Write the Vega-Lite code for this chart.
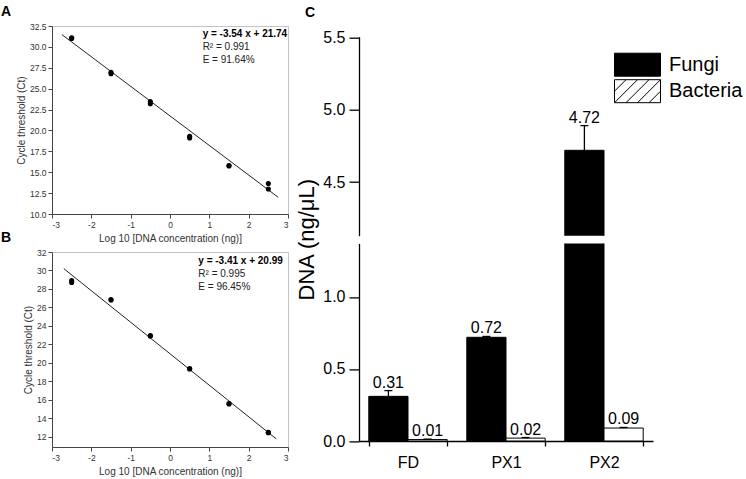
{
  "$schema": "https://vega.github.io/schema/vega-lite/v6.json",
  "padding": {"left": 0, "top": 4, "right": 0, "bottom": 0},
  "config": {
    "font": "Liberation Sans",
    "axis": {"grid": false, "titleFontWeight": "normal", "labelOverlap": false},
    "view": {"stroke": null},
    "title": {"fontWeight": "bold", "color": "black"}
  },
  "datasets": {
    "A_pts": [
      {"x": -2.5, "ct": 31.1}, {"x": -2.5, "ct": 31.0},
      {"x": -1.5, "ct": 26.95}, {"x": -1.5, "ct": 26.8},
      {"x": -0.5, "ct": 23.45}, {"x": -0.5, "ct": 23.2},
      {"x": 0.5, "ct": 19.3}, {"x": 0.5, "ct": 19.1},
      {"x": 1.5, "ct": 15.8}, {"x": 1.5, "ct": 15.75},
      {"x": 2.5, "ct": 13.65}, {"x": 2.5, "ct": 13.0}
    ],
    "A_fit": [{"x": -2.75, "ct": 31.475}, {"x": 2.75, "ct": 12.005}],
    "B_pts": [
      {"x": -2.5, "ct": 28.9}, {"x": -2.5, "ct": 28.7},
      {"x": -1.5, "ct": 26.8}, {"x": -1.5, "ct": 26.85},
      {"x": -0.5, "ct": 22.9}, {"x": -0.5, "ct": 22.95},
      {"x": 0.5, "ct": 19.4}, {"x": 0.5, "ct": 19.35},
      {"x": 1.5, "ct": 15.6}, {"x": 1.5, "ct": 15.55},
      {"x": 2.5, "ct": 12.5}, {"x": 2.5, "ct": 12.45}
    ],
    "B_fit": [{"x": -2.7, "ct": 30.197}, {"x": 2.7, "ct": 11.783}],
    "dna": [
      {"sample": "FD", "type": "Fungi", "dna": 0.31, "hi": 0.35},
      {"sample": "FD", "type": "Bacteria", "dna": 0.01, "hi": 0.013},
      {"sample": "PX1", "type": "Fungi", "dna": 0.72, "hi": 0.726},
      {"sample": "PX1", "type": "Bacteria", "dna": 0.02, "hi": 0.024},
      {"sample": "PX2", "type": "Fungi", "dna": 4.72, "hi": 4.89},
      {"sample": "PX2", "type": "Bacteria", "dna": 0.09, "hi": 0.094}
    ]
  },
  "spacing": 6,
  "hconcat": [
    {
      "bounds": "flush",
      "spacing": 38,
      "vconcat": [
        {
          "width": 236,
          "height": 188,
          "view": {"stroke": "#c4c4c4"},
          "title": {"text": "A", "anchor": "start", "frame": "group", "fontSize": 14, "dx": -51, "offset": 2.75},
          "layer": [
            {
              "data": {"name": "A_fit"},
              "mark": {"type": "line", "color": "#222", "strokeWidth": 1},
              "encoding": {
                "x": {"field": "x", "type": "quantitative", "scale": {"domain": [-3, 3], "nice": false},
                  "axis": {"title": "Log 10 [DNA concentration (ng)]", "values": [-3, -2, -1, 0, 1, 2, 3], "tickCount": 30, "labelOverlap": false, "labelExpr": "'' + datum.value", "tickSize": 4, "labelFontSize": 8.5, "titleFontSize": 10, "labelPadding": 2, "titlePadding": 5, "domainColor": "#444", "tickColor": "#444", "labelColor": "#333", "titleColor": "#333"}},
                "y": {"field": "ct", "type": "quantitative", "scale": {"domain": [10, 32.5], "nice": false, "zero": false},
                  "axis": {"title": "Cycle threshold (Ct)", "values": [10, 12.5, 15, 17.5, 20, 22.5, 25, 27.5, 30, 32.5], "tickCount": 30, "labelOverlap": false, "format": ".1f", "tickSize": 4, "labelFontSize": 8.5, "titleFontSize": 10, "labelPadding": 2, "titlePadding": 3, "domainColor": "#444", "tickColor": "#444", "labelColor": "#333", "titleColor": "#333"}}
              }
            },
            {
              "data": {"name": "A_pts"},
              "mark": {"type": "point", "filled": true, "color": "black", "size": 26, "opacity": 1},
              "encoding": {
                "x": {"field": "x", "type": "quantitative"},
                "y": {"field": "ct", "type": "quantitative"}
              }
            },
            {
              "data": {"values": [{}]},
              "mark": {"type": "text", "align": "left", "baseline": "alphabetic", "fontWeight": "bold", "fontSize": 10, "color": "black"},
              "encoding": {
                "x": {"datum": 0.83, "type": "quantitative"},
                "y": {"datum": 31.18, "type": "quantitative"},
                "text": {"value": "y = -3.54 x + 21.74"}
              }
            },
            {
              "data": {"values": [{}]},
              "mark": {"type": "text", "align": "left", "baseline": "alphabetic", "fontSize": 10, "lineHeight": 13, "color": "#222"},
              "encoding": {
                "x": {"datum": 0.83, "type": "quantitative"},
                "y": {"datum": 29.63, "type": "quantitative"},
                "text": {"value": ["R² = 0.991", "E = 91.64%"]}
              }
            }
          ]
        },
        {
          "width": 236,
          "height": 195,
          "view": {"stroke": "#c4c4c4"},
          "title": {"text": "B", "anchor": "start", "frame": "group", "fontSize": 14, "dx": -51, "offset": 2.75},
          "layer": [
            {
              "data": {"name": "B_fit"},
              "mark": {"type": "line", "color": "#222", "strokeWidth": 1},
              "encoding": {
                "x": {"field": "x", "type": "quantitative", "scale": {"domain": [-3, 3], "nice": false},
                  "axis": {"title": "Log 10 [DNA concentration (ng)]", "values": [-3, -2, -1, 0, 1, 2, 3], "tickCount": 30, "labelOverlap": false, "labelExpr": "'' + datum.value", "tickSize": 4, "labelFontSize": 8.5, "titleFontSize": 10, "labelPadding": 2, "titlePadding": 5, "domainColor": "#444", "tickColor": "#444", "labelColor": "#333", "titleColor": "#333"}},
                "y": {"field": "ct", "type": "quantitative", "scale": {"domain": [10.9, 32], "nice": false, "zero": false},
                  "axis": {"title": "Cycle threshold (Ct)", "values": [12, 14, 16, 18, 20, 22, 24, 26, 28, 30, 32], "tickCount": 30, "labelOverlap": false, "format": "d", "tickSize": 4, "labelFontSize": 8.5, "titleFontSize": 10, "labelPadding": 2, "titlePadding": 3, "domainColor": "#444", "tickColor": "#444", "labelColor": "#333", "titleColor": "#333"}}
              }
            },
            {
              "data": {"name": "B_pts"},
              "mark": {"type": "point", "filled": true, "color": "black", "size": 26, "opacity": 1},
              "encoding": {
                "x": {"field": "x", "type": "quantitative"},
                "y": {"field": "ct", "type": "quantitative"}
              }
            },
            {
              "data": {"values": [{}]},
              "mark": {"type": "text", "align": "left", "baseline": "alphabetic", "fontWeight": "bold", "fontSize": 10, "color": "black"},
              "encoding": {
                "x": {"datum": 0.72, "type": "quantitative"},
                "y": {"datum": 30.74, "type": "quantitative"},
                "text": {"value": "y = -3.41 x + 20.99"}
              }
            },
            {
              "data": {"values": [{}]},
              "mark": {"type": "text", "align": "left", "baseline": "alphabetic", "fontSize": 10, "lineHeight": 12.8, "color": "#222"},
              "encoding": {
                "x": {"datum": 0.72, "type": "quantitative"},
                "y": {"datum": 29.3, "type": "quantitative"},
                "text": {"value": ["R² = 0.995", "E = 96.45%"]}
              }
            }
          ]
        }
      ]
    },
    {
      "bounds": "flush",
      "spacing": 7.7,
      "resolve": {"scale": {"color": "independent", "y": "independent"}, "legend": {"color": "independent"}},
      "vconcat": [
        {
          "width": 294,
          "height": 2.3,
          "data": {"values": []},
          "mark": {"type": "point", "opacity": 0}
        },
        {
          "width": 294,
          "height": 199,
          "title": {"text": "C", "anchor": "start", "frame": "group", "fontSize": 14, "dx": -54, "offset": 9.7},
          "data": {"name": "dna"},
          "encoding": {
            "x": {"field": "sample", "type": "nominal", "scale": {"paddingInner": 0.2, "paddingOuter": 0.1}, "axis": null},
            "xOffset": {"field": "type", "type": "nominal", "scale": {"domain": ["Fungi", "Bacteria"], "paddingInner": 0, "paddingOuter": 0}}
          },
          "layer": [
            {
              "mark": {"type": "bar", "clip": true, "stroke": "black", "strokeWidth": 1},
              "encoding": {
                "y": {"field": "dna", "type": "quantitative", "scale": {"domain": [4.13, 5.505], "nice": false, "zero": false},
                  "axis": {"title": "DNA (ng/μL)", "titleFontSize": 22, "titleColor": "black", "titleX": -46, "titleY": 202.5, "titleAngle": -90, "titleAlign": "center", "titleBaseline": "alphabetic", "values": [4.5, 5.0, 5.5], "format": ".1f", "tickSize": 10, "tickWidth": 1.3, "domainWidth": 1.3, "labelFontSize": 16, "labelPadding": 4, "domainColor": "black", "tickColor": "black", "labelColor": "black"}},
                "color": {"field": "type", "type": "nominal", "scale": {"domain": ["Fungi", "Bacteria"], "range": ["black", "white"]},
                  "legend": {"title": null, "orient": "none", "legendX": 266.5, "legendY": 16, "symbolType": "M-2,-1H2V1H-2Z M-2,0L-1,-1 M-2,1L0,-1 M-1,1L1,-1 M0,1L2,-1 M1,1L2,0", "symbolSize": 529, "symbolStrokeColor": "black", "symbolStrokeWidth": 1, "symbolOpacity": 1, "labelFontSize": 20, "labelOffset": 19.5, "rowPadding": -1.5, "padding": 0, "labelColor": "black"}}
              }
            },
            {
              "mark": {"type": "rule", "clip": true, "strokeWidth": 1.3, "color": "black"},
              "encoding": {
                "y": {"field": "dna", "type": "quantitative"},
                "y2": {"field": "hi"}
              }
            },
            {
              "mark": {"type": "tick", "clip": true, "size": 8, "thickness": 1.3, "color": "black", "opacity": 1},
              "encoding": {
                "y": {"field": "hi", "type": "quantitative"}
              }
            },
            {
              "transform": [{"filter": "datum.hi > 4.13"}],
              "mark": {"type": "text", "dy": -3, "baseline": "alphabetic", "fontSize": 16, "color": "black"},
              "encoding": {
                "y": {"field": "hi", "type": "quantitative"},
                "text": {"field": "dna", "type": "quantitative", "format": ".2f"}
              }
            }
          ]
        },
        {
          "width": 294,
          "height": 197.6,
          "data": {"name": "dna"},
          "encoding": {
            "x": {"field": "sample", "type": "nominal", "scale": {"paddingInner": 0.2, "paddingOuter": 0.1},
              "axis": {"title": null, "labelAngle": 0, "tickBand": "extent", "tickSize": 5, "tickWidth": 1.3, "domainWidth": 1.3, "labelFontSize": 16, "labelPadding": 8, "domainColor": "black", "tickColor": "black", "labelColor": "black"}},
            "xOffset": {"field": "type", "type": "nominal", "scale": {"domain": ["Fungi", "Bacteria"], "paddingInner": 0, "paddingOuter": 0}}
          },
          "layer": [
            {
              "mark": {"type": "bar", "clip": true, "stroke": "black", "strokeWidth": 1},
              "encoding": {
                "y": {"field": "dna", "type": "quantitative", "scale": {"domain": [0, 1.372], "nice": false},
                  "axis": {"title": null, "values": [0, 0.5, 1.0], "format": ".1f", "tickSize": 10, "tickWidth": 1.3, "domainWidth": 1.3, "labelFontSize": 16, "labelPadding": 4, "domainColor": "black", "tickColor": "black", "labelColor": "black"}},
                "color": {"field": "type", "type": "nominal", "scale": {"domain": ["Fungi", "Bacteria"], "range": ["black", "white"]}, "legend": null}
              }
            },
            {
              "mark": {"type": "rule", "clip": true, "strokeWidth": 1.3, "color": "black"},
              "encoding": {
                "y": {"field": "dna", "type": "quantitative"},
                "y2": {"field": "hi"}
              }
            },
            {
              "mark": {"type": "tick", "clip": true, "size": 8, "thickness": 1.3, "color": "black", "opacity": 1},
              "encoding": {
                "y": {"field": "hi", "type": "quantitative"}
              }
            },
            {
              "transform": [{"filter": "datum.hi < 1.372"}],
              "mark": {"type": "text", "dy": -3, "baseline": "alphabetic", "fontSize": 16, "color": "black"},
              "encoding": {
                "y": {"field": "hi", "type": "quantitative"},
                "text": {"field": "dna", "type": "quantitative", "format": ".2f"}
              }
            }
          ]
        }
      ]
    }
  ]
}
